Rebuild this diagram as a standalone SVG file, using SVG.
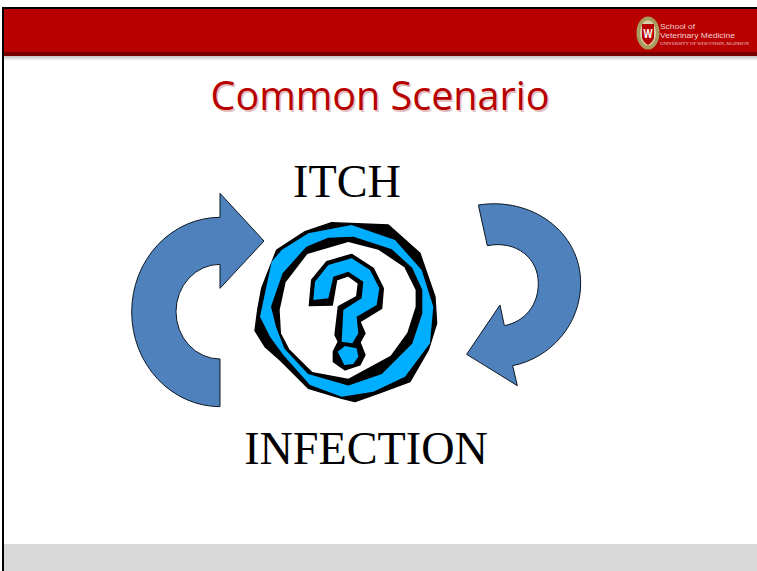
<svg xmlns="http://www.w3.org/2000/svg" width="757" height="571" viewBox="0 0 757 571">
<style>
.arrow{fill:#4f81bd;stroke:#0a1622;stroke-width:3}
.serif{font-family:"Liberation Serif",serif;fill:#000;font-size:46.200px}
.sans{font-family:"Open Sans","Noto Sans",sans-serif}
.logotext{font-family:"Liberation Sans",sans-serif;fill:#f0d0d0}
.ink{fill:#000;stroke:#000;stroke-width:4;stroke-linejoin:round}
.blue{fill:#00aeff}
</style>
<defs><linearGradient id="shade" x1="0" y1="0" x2="0" y2="1"><stop offset="0" stop-color="#c4c4c4"/><stop offset="1" stop-color="#fff"/></linearGradient></defs>
<rect width="757" height="571" fill="#fff"/>
<rect x="4" y="56" width="753" height="5" fill="url(#shade)"/>
<rect x="2" y="7" width="755" height="2" fill="#000"/>
<rect x="4" y="9" width="753" height="43" fill="#b80000"/>
<rect x="4" y="52" width="753" height="4" fill="#760000"/>
<rect x="4" y="544" width="753" height="27" fill="#d9d9d9"/>
<rect x="2" y="7" width="2" height="564" fill="#000"/>
<g id="logo">
<ellipse cx="648" cy="33" rx="11.500" ry="16.500" fill="#a99a5e"/>
<ellipse cx="648" cy="33" rx="8" ry="12.500" fill="#d8d0a8"/>
<path d="M642 24h12v14q-2 5-6 7q-4-2-6-7z" fill="#b80000"/>
<text x="643.500" y="38" class="sans" font-size="13" font-weight="700" fill="#fff" textLength="9" lengthAdjust="spacingAndGlyphs">W</text>
<text x="660" y="28.500" class="logotext" font-size="8" textLength="35" lengthAdjust="spacingAndGlyphs">School of</text>
<text x="660" y="38" class="logotext" font-size="8" textLength="75" lengthAdjust="spacingAndGlyphs">Veterinary Medicine</text>
<text x="660" y="45" font-family="'Liberation Serif',serif" font-size="4.500" fill="#f0d0d0" textLength="89" lengthAdjust="spacingAndGlyphs">UNIVERSITY OF WISCONSIN–MADISON</text>
</g>
<g id="title">
<text x="380" y="110" text-anchor="middle" class="sans" font-size="39.500" fill="#e3c0c0" transform="translate(1.500 1.500)">Common Scenario</text>
<text x="380" y="110" text-anchor="middle" class="sans" font-size="39.500" fill="#b80000">Common Scenario</text>
</g>
<g id="itch"><text x="347" y="197" text-anchor="middle" class="serif">ITCH</text></g>
<g id="infection"><text x="366" y="464" text-anchor="middle" class="serif">INFECTION</text></g>
<g id="connectors">
<path class="arrow" transform="translate(120 185) scale(.3333)" d="M300 665A265 284 0 0 1 300 97V25L432 168L300 310V238A132 142 0 0 0 300 522Z"/>
<path class="arrow" transform="translate(460 195) scale(.3333)" d="M55 30C215 5 362 110 362 265C362 390 270 490 158 512L172 572L20 478L120 330L133 392C195 380 235 330 235 265C235 190 170 135 82 152Z"/>
</g>
<g id="question" transform="translate(245 210) scale(.3333)">
<polygon class="ink" points="30,362 38,300 50,235 95,120 180,65 260,38 430,45 525,130 570,260 575,340 550,420 495,515 400,550 330,575 290,565 190,535 105,450 60,410"/>
<polygon class="blue" points="45,320 80,155 110,120 190,70 320,45 450,90 530,180 565,290 555,400 480,500 385,545 290,560 195,525 115,435 75,380"/>
<polygon class="ink" points="80,290 115,190 185,112 250,85 325,82 440,120 500,175 530,240 530,310 500,400 410,490 310,525 190,490 120,415 95,350"/>
<polygon fill="#fff" points="104,300 122,217 187,132 310,96 400,119 478,172 512,240 512,290 487,368 437,437 310,506 202,486 133,418 108,370"/>
<polygon class="ink" points="193,287 200,210 245,155 320,133 385,175 415,235 410,295 345,335 360,370 345,397 360,435 345,465 300,480 265,455 265,425 280,395 270,375 280,290 335,260 340,220 310,198 275,210 262,285"/>
<polygon class="blue" points="205,270 210,215 250,165 320,145 375,180 403,235 395,285 335,320 340,370 322,400 290,395 295,300 350,265 355,215 310,185 265,200 250,265"/>
<polygon class="blue" points="278,425 300,408 335,415 340,440 325,462 298,465"/>
</g>
</svg>
